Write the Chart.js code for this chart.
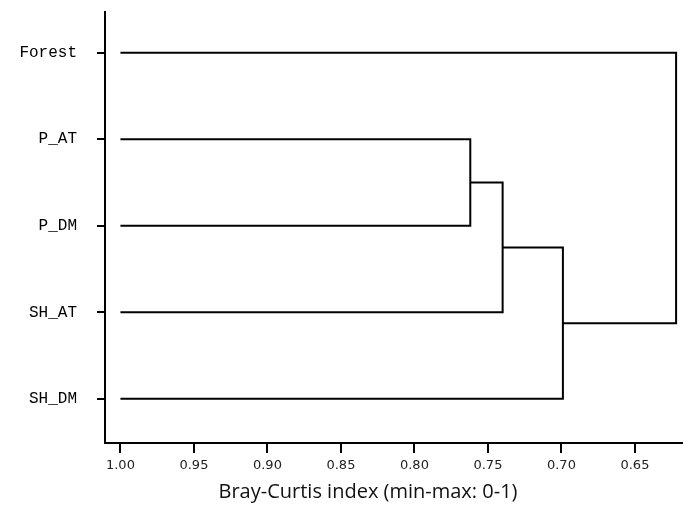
<!DOCTYPE html>
<html>
<head>
<meta charset="utf-8">
<script src="https://cdn.jsdelivr.net/npm/chart.js@4"></script>
<style>
  html, body { margin: 0; padding: 0; background: #fff; }
  #c { display: block; }
</style>
</head>
<body>
<canvas id="c" width="683" height="515"></canvas>
<script>
// ---- data ----
const categories = ['Forest', 'P_AT', 'P_DM', 'SH_AT', 'SH_DM'];
const leafHeight = 1.00;
// merges: children are leaf indices (numbers) or earlier merge ids ('m0', 'm1', ...)
const mergeLeft  = [1, 'm0', 'm1', 'm2'];
const mergeRight = [2, 3, 4, 0];
const mergeHeights = [0.762, 0.740, 0.699, 0.622];
const xTickValues = [1.00, 0.95, 0.90, 0.85, 0.80, 0.75, 0.70, 0.65];
const xAxisTitle = 'Bray-Curtis index (min-max: 0-1)';

// ---- build dendrogram segments ----
const nodeInfo = {};
function info(child) {
  if (typeof child === 'number') return { h: leafHeight, y: child };
  return nodeInfo[child];
}
const datasets = [];
mergeHeights.forEach((h, i) => {
  const a = info(mergeLeft[i]);
  const b = info(mergeRight[i]);
  nodeInfo['m' + i] = { h: h, y: (a.y + b.y) / 2 };
  datasets.push({
    data: [
      { x: a.h, y: a.y },
      { x: h, y: a.y },
      { x: h, y: b.y },
      { x: b.h, y: b.y }
    ],
    showLine: true,
    borderColor: '#000',
    borderWidth: 2,
    pointRadius: 0,
    tension: 0,
    fill: false
  });
});

const titlePlugin = {
  id: 'xTitle',
  afterDraw(chart) {
    const ctx = chart.ctx;
    ctx.save();
    ctx.font = '20px "Open Sans"';
    ctx.fillStyle = '#111';
    ctx.textAlign = 'center';
    ctx.textBaseline = 'middle';
    ctx.fillText(xAxisTitle, 368, 492);
    ctx.restore();
  }
};

new Chart(document.getElementById('c'), {
  type: 'scatter',
  data: { datasets },
  plugins: [titlePlugin],
  options: {
    responsive: false,
    animation: false,
    layout: { padding: { top: 12, right: 0, left: 0, bottom: 0 } },
    plugins: { legend: { display: false }, tooltip: { enabled: false } },
    scales: {
      x: {
        type: 'linear',
        reverse: true,
        min: 0.6173,
        max: 1.0105,
        afterBuildTicks(scale) { scale.ticks = xTickValues.map(v => ({ value: v })); },
        afterFit(scale) { scale.height = 72; scale.paddingLeft = 0; scale.paddingRight = 0; },
        border: { display: true, color: '#000', width: 2 },
        grid: { display: true, drawOnChartArea: false, drawTicks: true, tickLength: 10, color: '#000', lineWidth: 2 },
        ticks: {
          color: '#222',
          font: { family: '"DejaVu Sans"', size: 13 },
          padding: 5,
          maxRotation: 0,
          autoSkip: false,
          callback: v => Number(v).toFixed(2)
        }
      },
      y: {
        type: 'linear',
        reverse: true,
        min: -0.47,
        max: 4.51,
        afterBuildTicks(scale) { scale.ticks = categories.map((c, i) => ({ value: i })); },
        afterFit(scale) { scale.width = 105; scale.paddingTop = 0; scale.paddingBottom = 0; },
        border: { display: true, color: '#000', width: 2 },
        grid: { display: true, drawOnChartArea: false, drawTicks: true, tickLength: 8, color: '#000', lineWidth: 2 },
        ticks: {
          color: '#000',
          font: { family: '"Liberation Mono"', size: 16 },
          padding: 20,
          autoSkip: false,
          callback: v => categories[v]
        }
      }
    }
  }
});
</script>
</body>
</html>
